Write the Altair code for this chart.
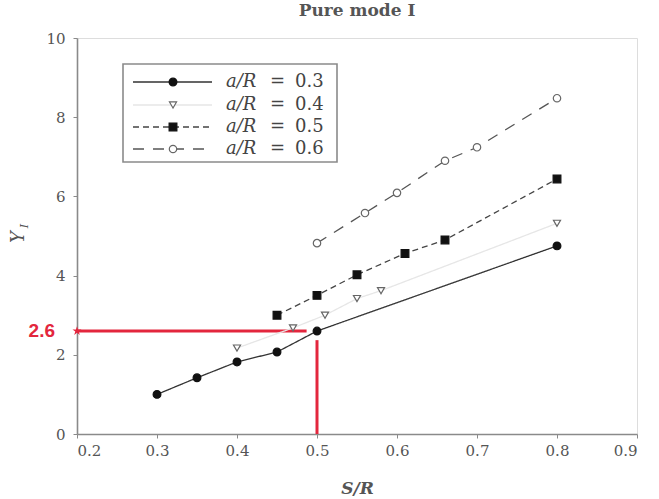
import altair as alt
import pandas as pd

# ---------------- data ----------------
series_labels = ["0.3", "0.4", "0.5", "0.6"]
sr_03 = [0.30, 0.35, 0.40, 0.45, 0.50, 0.80]
yi_03 = [1.00, 1.42, 1.82, 2.07, 2.60, 4.75]
sr_04 = [0.40, 0.47, 0.51, 0.55, 0.58, 0.80]
yi_04 = [2.17, 2.68, 3.00, 3.42, 3.62, 5.32]
sr_05 = [0.45, 0.50, 0.55, 0.61, 0.66, 0.80]
yi_05 = [3.00, 3.50, 4.02, 4.56, 4.90, 6.44]
sr_06 = [0.50, 0.56, 0.60, 0.66, 0.70, 0.80]
yi_06 = [4.82, 5.58, 6.09, 6.90, 7.24, 8.48]

x_ticks = [0.2, 0.3, 0.4, 0.5, 0.6, 0.7, 0.8, 0.9]
y_ticks = [0, 2, 4, 6, 8, 10]

# annotation (red guide lines)
mark_value = 2.6
mark_sr = 0.5
h_line_x = [0.2, 0.487]
v_line_y = [0.0, 2.37]

# ---------------- styles ----------------
W, H = 560, 396
SERIF = "DejaVu Serif"
RED = "#e3263d"
AX = "#8a8a8a"
TXT = "#555555"

styles = [
    dict(shape="circle", fill="#111111", stroke="#111111", line="#333333", dash=[1, 0], lw=1.3),
    dict(shape="triangle-down", fill="white", stroke="#666666", line="#e6e6e6", dash=[1, 0], lw=1.3),
    dict(shape="square", fill="#111111", stroke="#111111", line="#444444", dash=[6, 4], lw=1.3),
    dict(shape="circle", fill="white", stroke="#666666", line="#555555", dash=[11, 9], lw=1.3),
]
sizes = [60, 50, 60, 55]

xscale = alt.Scale(domain=[0.2, 0.9], nice=False, zero=False)
yscale = alt.Scale(domain=[0, 10], nice=False, zero=False)

xaxis = alt.Axis(values=x_ticks, format=".1f", title="S/R", grid=False,
                 tickSize=4, tickColor=AX, domainColor=AX, domainWidth=1.6,
                 labelFont=SERIF, labelFontSize=15, labelColor=TXT,
                 labelPadding=5, titleFont=SERIF, titleFontSize=17,
                 titleFontStyle="italic", titleFontWeight="bold",
                 titleColor=TXT, titlePadding=22)
yaxis = alt.Axis(values=y_ticks, format="d", title=None, grid=False,
                 tickSize=4, tickColor=AX, domainColor=AX, domainWidth=1.6,
                 labelFont=SERIF, labelFontSize=15, labelColor=TXT,
                 labelPadding=8)


def X(field="x"):
    return alt.X(f"{field}:Q", scale=xscale, axis=xaxis)


def Y(field="y"):
    return alt.Y(f"{field}:Q", scale=yscale, axis=yaxis)


all_x = [sr_03, sr_04, sr_05, sr_06]
all_y = [yi_03, yi_04, yi_05, yi_06]

layers = []

# red guide lines
hdf = pd.DataFrame({"x": [h_line_x[0]], "x2": [h_line_x[1]], "y": [mark_value]})
layers.append(alt.Chart(hdf).mark_rule(color=RED, strokeWidth=3).encode(
    x=X(), x2="x2:Q", y=Y()))
vdf = pd.DataFrame({"x": [mark_sr], "y": [v_line_y[0]], "y2": [v_line_y[1]]})
layers.append(alt.Chart(vdf).mark_rule(color=RED, strokeWidth=3).encode(
    x=X(), y=Y(), y2="y2:Q"))

# series lines
for i, lab in enumerate(series_labels):
    st = styles[i]
    df = pd.DataFrame({"x": all_x[i], "y": all_y[i]})
    layers.append(alt.Chart(df).mark_line(
        color=st["line"], strokeWidth=st["lw"], strokeDash=st["dash"]).encode(
        x=X(), y=Y(), order="x:Q"))

# series markers
for i, lab in enumerate(series_labels):
    st = styles[i]
    df = pd.DataFrame({"x": all_x[i], "y": all_y[i]})
    layers.append(alt.Chart(df).mark_point(
        shape=st["shape"], filled=True, fill=st["fill"], stroke=st["stroke"],
        strokeWidth=1.2, size=sizes[i], opacity=1).encode(x=X(), y=Y()))

# red star + label
sdf = pd.DataFrame({"x": [0.2], "y": [mark_value], "t": [str(mark_value)]})
star = ("M0,-1L0.2245,-0.309L0.951,-0.309L0.363,0.118L0.588,0.809L0,0.382"
        "L-0.588,0.809L-0.363,0.118L-0.951,-0.309L-0.2245,-0.309Z")
layers.append(alt.Chart(sdf).mark_point(
    shape=star, filled=True, color=RED, size=90, opacity=1).encode(x=X(), y=Y()))
layers.append(alt.Chart(sdf).mark_text(
    color=RED, font="Liberation Sans", fontSize=19, fontWeight="bold",
    align="right", baseline="middle", dx=-22).encode(x=X(), y=Y(), text="t:N"))

# ---------------- legend (drawn manually) ----------------
one = pd.DataFrame({"k": [0]})
layers.append(alt.Chart(one).mark_rect(
    fill="white", stroke="#8a8a8a", strokeWidth=1.6).encode(
    x=alt.value(46), x2=alt.value(260), y=alt.value(26), y2=alt.value(124)))
row_y = [44, 67, 89, 111]
for i, lab in enumerate(series_labels):
    st = styles[i]
    ldf = pd.DataFrame({"lab": [lab]})
    layers.append(alt.Chart(ldf).mark_rule(
        color=st["line"], strokeWidth=st["lw"], strokeDash=st["dash"]).encode(
        x=alt.value(56), x2=alt.value(135), y=alt.value(row_y[i])))
    layers.append(alt.Chart(ldf).mark_point(
        shape=st["shape"], filled=True, fill=st["fill"], stroke=st["stroke"],
        strokeWidth=1.2, size=sizes[i], opacity=1).encode(
        x=alt.value(96), y=alt.value(row_y[i])))
    layers.append(alt.Chart(ldf).mark_text(
        font=SERIF, fontSize=18, fontStyle="italic", color="#444444",
        align="left", baseline="middle").encode(
        x=alt.value(149), y=alt.value(row_y[i]), text=alt.value("a/R")))
    layers.append(alt.Chart(ldf).mark_text(
        font=SERIF, fontSize=18, color="#444444",
        align="left", baseline="middle").encode(
        x=alt.value(193), y=alt.value(row_y[i]), text=alt.value("=")))
    layers.append(alt.Chart(ldf).mark_text(
        font=SERIF, fontSize=18, color="#444444",
        align="left", baseline="middle").encode(
        x=alt.value(218), y=alt.value(row_y[i]), text="lab:N"))

# y-axis title Y_I
layers.append(alt.Chart(one).mark_text(
    font=SERIF, fontSize=18, fontStyle="italic", color=TXT,
    angle=270, align="center", baseline="middle").encode(
    x=alt.value(-58), y=alt.value(199), text=alt.value("Y")))
layers.append(alt.Chart(one).mark_text(
    font=SERIF, fontSize=11, fontStyle="italic", color=TXT,
    angle=270, align="center", baseline="middle").encode(
    x=alt.value(-52), y=alt.value(188), text=alt.value("I")))

chart = alt.layer(*layers).properties(
    width=W, height=H,
    autosize=alt.AutoSizeParams(type="none"),
    padding={"left": 77, "top": 38, "right": 22, "bottom": 65},
    title=alt.TitleParams("Pure mode I", font=SERIF, fontSize=17,
                          fontWeight="bold", color=TXT, offset=11),
).configure_view(stroke=AX, strokeWidth=1.6).configure(background="white")

chart.save("out.html", embed_options={"renderer": "svg", "actions": False})
